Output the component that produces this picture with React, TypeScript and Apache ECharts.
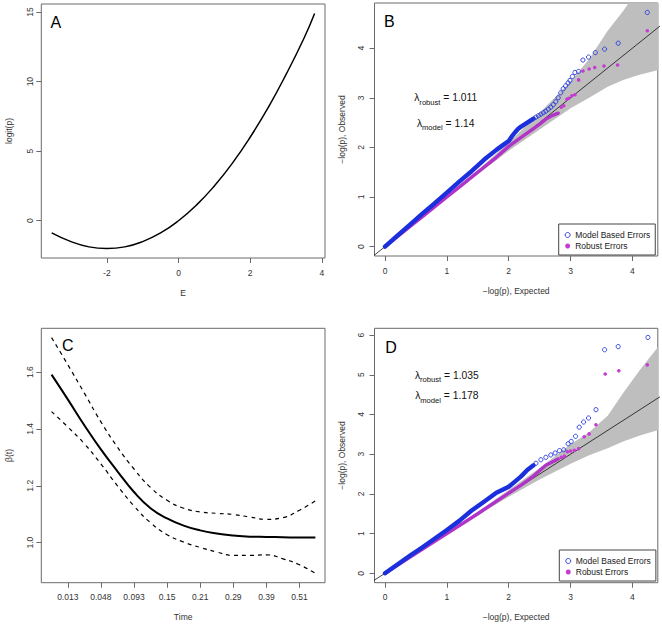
import { useEffect, useRef } from "react";
import * as echarts from "echarts";

const FONT = "'Liberation Sans', Arial, Helvetica, sans-serif";

// ---------- Panel A ----------
const eValues = [-3.54, -3.0, -2.5, -2.0, -1.5, -1.0, -0.5, 0, 0.5, 1.0, 1.5, 2.0, 2.5, 3.0, 3.5, 3.8];
const logitValues = [-0.87, -1.5, -1.88, -2.0, -1.88, -1.5, -0.88, 0.0, 1.12, 2.5, 4.12, 6.0, 8.12, 10.5, 13.1, 14.9];
const aXTicks = [-2, 0, 2, 4];
const aYTicks = [0, 5, 10, 15];

// ---------- Panel B ----------
const bModelDenseX = [0, 0.2, 0.4, 0.6, 0.8, 1.0, 1.2, 1.4, 1.6, 1.8, 1.9, 2.0, 2.05, 2.1, 2.15, 2.2, 2.3, 2.4];
const bModelDenseY = [0, 0.22, 0.44, 0.66, 0.87, 1.09, 1.31, 1.52, 1.75, 1.95, 2.04, 2.13, 2.22, 2.3, 2.37, 2.42, 2.5, 2.58];
const bModelTailX = [2.44, 2.48, 2.52, 2.56, 2.6, 2.64, 2.68, 2.72, 2.76, 2.8, 2.84, 2.88, 2.92, 2.96, 2.99, 3.03, 3.07, 3.13, 3.2, 3.29, 3.4, 3.55, 3.77, 4.24];
const bModelTailY = [2.61, 2.64, 2.67, 2.7, 2.73, 2.77, 2.81, 2.86, 2.92, 3.0, 3.1, 3.18, 3.24, 3.3, 3.35, 3.43, 3.51, 3.53, 3.76, 3.82, 3.91, 3.98, 4.1, 4.72];
const bRobustDenseX = [0, 0.2, 0.4, 0.6, 0.8, 1.0, 1.2, 1.4, 1.6, 1.8, 2.0, 2.2, 2.4, 2.5, 2.6, 2.7, 2.8];
const bRobustDenseY = [0, 0.2, 0.4, 0.6, 0.8, 1.0, 1.2, 1.4, 1.6, 1.8, 2.02, 2.2, 2.38, 2.47, 2.57, 2.64, 2.69];
const bRobustTailX = [2.85, 2.89, 2.94, 2.97, 3.02, 3.07, 3.13, 3.2, 3.3, 3.39, 3.54, 3.76, 4.24];
const bRobustTailY = [2.81, 2.84, 2.97, 2.99, 3.04, 3.06, 3.36, 3.54, 3.58, 3.61, 3.64, 3.66, 4.35];
const bBandX = [0, 1.0, 1.5, 2.0, 2.5, 3.0, 3.3, 3.6, 3.85, 4.1, 4.42];
const bBandLower = [0, 0.98, 1.46, 1.93, 2.36, 2.79, 3.0, 3.22, 3.36, 3.46, 3.56];
const bBandUpper = [0, 1.02, 1.54, 2.1, 2.7, 3.33, 3.78, 4.35, 4.75, 5.2, 5.8];
const qqXTicks = [0, 1, 2, 3, 4];
const bYTicks = [0, 1, 2, 3, 4];

// ---------- Panel C ----------
const timeTickLabels = ["0.013", "0.048", "0.093", "0.15", "0.21", "0.29", "0.39", "0.51"];
const timeTickPos = [0, 1, 2, 3, 4, 5, 6, 7];
const cPos = [-0.49, 0, 0.5, 1, 1.5, 2, 2.5, 3, 3.5, 4, 4.5, 5, 5.5, 6, 6.5, 7, 7.48];
const betaFit = [1.591, 1.504, 1.413, 1.328, 1.251, 1.178, 1.121, 1.085, 1.06, 1.043, 1.032, 1.025, 1.021, 1.02, 1.019, 1.018, 1.018];
const betaUpper = [1.721, 1.626, 1.526, 1.425, 1.336, 1.259, 1.194, 1.149, 1.121, 1.108, 1.103, 1.099, 1.09, 1.082, 1.088, 1.114, 1.147];
const betaLower = [1.461, 1.407, 1.348, 1.277, 1.2, 1.129, 1.07, 1.028, 1.002, 0.983, 0.967, 0.955, 0.955, 0.957, 0.943, 0.922, 0.892];
const cYTicks = [1.0, 1.2, 1.4, 1.6];

// ---------- Panel D ----------
const dModelDenseX = [0, 0.2, 0.4, 0.6, 0.8, 1.0, 1.2, 1.4, 1.6, 1.8, 2.0, 2.1, 2.2, 2.3, 2.4];
const dModelDenseY = [0, 0.22, 0.44, 0.65, 0.87, 1.09, 1.32, 1.58, 1.8, 2.03, 2.18, 2.31, 2.44, 2.6, 2.72];
const dModelTailX = [2.44, 2.52, 2.6, 2.68, 2.75, 2.82, 2.89, 2.96, 3.01, 3.08, 3.14, 3.21, 3.29, 3.41, 3.55, 3.77, 4.25];
const dModelTailY = [2.77, 2.86, 2.92, 2.98, 3.03, 3.09, 3.11, 3.26, 3.32, 3.45, 3.68, 3.81, 3.91, 4.12, 5.63, 5.71, 5.94];
const dRobustDenseX = [0, 0.5, 1.0, 1.5, 2.0, 2.2, 2.4, 2.6, 2.8];
const dRobustDenseY = [0, 0.5, 1.0, 1.5, 2.02, 2.22, 2.45, 2.72, 2.88];
const dRobustTailX = [2.85, 2.9, 2.95, 3.0, 3.06, 3.13, 3.22, 3.3, 3.41, 3.56, 3.78, 4.24];
const dRobustTailY = [2.92, 2.95, 3.06, 3.08, 3.1, 3.14, 3.44, 3.51, 3.74, 5.02, 5.1, 5.25];
const dBandX = [0, 1.0, 1.5, 2.0, 2.5, 3.0, 3.3, 3.6, 3.85, 4.12, 4.42];
const dBandLower = [0, 0.98, 1.46, 1.93, 2.36, 2.76, 2.97, 3.15, 3.32, 3.47, 3.61];
const dBandUpper = [0, 1.02, 1.55, 2.1, 2.65, 3.25, 3.55, 3.97, 4.54, 5.12, 5.71];
const dYTicks = [0, 1, 2, 3, 4, 5, 6];

const diagonal = [[-1, -1], [7, 7]];

const BLUE = "#2236dc";
const BLUE_DENSE = "#1b30dc";
const MAG = "#c63bd2";
const MAG_DENSE = "#b133c8";
const GRAY_BAND = "#bebebe";
const AXIS_COL = "#6a6a6a";
const TEXT_COL = "#333";

const zip = (xs: number[], ys: number[]) => xs.map((x, i) => [x, ys[i]]);

function xAxisDef(gridIndex: number, min: number, max: number, ticks: number[], name: string, nameGap: number, margin: number, extra: any = {}) {
  return {
    type: "value",
    gridIndex,
    min,
    max,
    name,
    nameLocation: "middle",
    nameGap,
    nameTextStyle: { fontSize: 8.5, color: TEXT_COL, fontFamily: FONT },
    axisLine: { show: false, onZero: false },
    axisTick: { show: true, length: 5, customValues: ticks, lineStyle: { color: AXIS_COL, width: 1 } },
    axisLabel: { customValues: ticks, fontSize: 8.5, color: TEXT_COL, fontFamily: FONT, margin, ...(extra.axisLabel || {}) },
    splitLine: { show: false },
  };
}

function yAxisDef(gridIndex: number, min: number, max: number, ticks: number[], name: string, nameGap: number, margin: number, fmt?: (v: number) => string) {
  return {
    type: "value",
    gridIndex,
    min,
    max,
    name,
    nameLocation: "middle",
    nameGap,
    nameRotate: 90,
    nameTextStyle: { fontSize: 8.5, color: TEXT_COL, fontFamily: FONT },
    axisLine: { show: false, onZero: false },
    axisTick: { show: true, length: 5, customValues: ticks, lineStyle: { color: AXIS_COL, width: 1 } },
    axisLabel: {
      customValues: ticks,
      fontSize: 8.5,
      color: TEXT_COL,
      fontFamily: FONT,
      margin,
      rotate: 90,
      formatter: fmt,
    },
    splitLine: { show: false },
  };
}

function bandSeries(axisIndex: number, xs: number[], lo: number[], hi: number[]) {
  return {
    type: "custom",
    xAxisIndex: axisIndex,
    yAxisIndex: axisIndex,
    clip: true,
    silent: true,
    z: 1,
    data: [0],
    renderItem: (_p: any, api: any) => {
      const pts: number[][] = [];
      for (let i = 0; i < xs.length; i++) pts.push(api.coord([xs[i], hi[i]]));
      for (let i = xs.length - 1; i >= 0; i--) pts.push(api.coord([xs[i], lo[i]]));
      return { type: "polygon", shape: { points: pts }, style: { fill: GRAY_BAND, stroke: null } };
    },
  };
}

function qqSeries(axisIndex: number, mdx: number[], mdy: number[], mtx: number[], mty: number[], rdx: number[], rdy: number[], rtx: number[], rty: number[]) {
  const common = { xAxisIndex: axisIndex, yAxisIndex: axisIndex };
  return [
    {
      ...common,
      type: "line",
      name: "diag" + axisIndex,
      data: diagonal,
      showSymbol: false,
      silent: true,
      z: 2,
      lineStyle: { color: "#111", width: 0.8 },
    },
    {
      ...common,
      type: "line",
      name: "robustDense" + axisIndex,
      data: zip(rdx, rdy),
      showSymbol: false,
      z: 3,
      lineStyle: { color: MAG_DENSE, width: 3.4, cap: "round", join: "round" },
    },
    {
      ...common,
      type: "line",
      name: "modelDense" + axisIndex,
      data: zip(mdx, mdy),
      showSymbol: false,
      z: 4,
      lineStyle: { color: BLUE_DENSE, width: 4.4, cap: "round", join: "round" },
    },
    {
      ...common,
      type: "scatter",
      name: "Robust Errors",
      data: zip(rtx, rty),
      symbol: "circle",
      symbolSize: 3.6,
      z: 5,
      itemStyle: { color: MAG, opacity: 1 },
    },
    {
      ...common,
      type: "scatter",
      name: "Model Based Errors",
      data: zip(mtx, mty),
      symbol: "circle",
      symbolSize: 4.2,
      z: 5,
      itemStyle: { color: "rgba(0,0,0,0)", borderColor: BLUE, borderWidth: 0.9, opacity: 1 },
    },
  ];
}

function legendDef(left: number, top: number) {
  return {
    left,
    top,
    orient: "vertical",
    padding: [6, 5, 4, 6],
    itemGap: 1,
    itemWidth: 5,
    itemHeight: 5,
    borderColor: "#444",
    borderWidth: 1,
    backgroundColor: "#fff",
    selectedMode: false,
    textStyle: { fontSize: 8.5, color: "#222", fontFamily: FONT, lineHeight: 10 },
    data: [
      { name: "Model Based Errors", icon: "circle", itemStyle: { color: "rgba(0,0,0,0)", borderColor: BLUE, borderWidth: 0.9 } },
      { name: "Robust Errors", icon: "circle", itemStyle: { color: MAG } },
    ],
  };
}

function lambdaText(cx: number, cy: number, sub: string, value: string) {
  return {
    type: "text",
    x: cx,
    y: cy,
    silent: true,
    style: {
      text: `{l|λ}{s|${sub}}{l| = ${value}}`,
      align: "center",
      verticalAlign: "middle",
      fill: "#111",
      rich: {
        l: { fontSize: 10.3, fontFamily: FONT, lineHeight: 12, verticalAlign: "top", fill: "#111" },
        s: { fontSize: 7.6, fontFamily: FONT, lineHeight: 8, padding: [5.5, 0, 0, 0], verticalAlign: "top", fill: "#111" },
      },
    },
  };
}

function panelLetter(x: number, y: number, t: string) {
  return {
    type: "text",
    x,
    y,
    silent: true,
    style: { text: t, fontSize: 16, fontFamily: FONT, fill: "#000", align: "left", verticalAlign: "middle" },
  };
}

export default function App() {
  const ref = useRef<HTMLDivElement>(null);
  useEffect(() => {
    if (!ref.current) return;
    const chart = echarts.init(ref.current, undefined, { renderer: "svg" });
    const gridStyle = { show: true, borderColor: AXIS_COL, borderWidth: 1, backgroundColor: "transparent", containLabel: false };
    const option: any = {
      animation: false,
      backgroundColor: "#fff",
      textStyle: { fontFamily: FONT },
      grid: [
        { ...gridStyle, left: 41.3, top: 4, width: 283.7, height: 254 },
        { ...gridStyle, left: 374.5, top: 3, width: 283.3, height: 253 },
        { ...gridStyle, left: 41.3, top: 328.3, width: 283.7, height: 254.4 },
        { ...gridStyle, left: 374.5, top: 328.3, width: 283.3, height: 254.4 },
      ],
      xAxis: [
        xAxisDef(0, -3.83, 4.09, aXTicks, "E", 30, 10),
        xAxisDef(1, -0.17, 4.41, qqXTicks, "\u2212log(p), Expected", 30.5, 10),
        xAxisDef(2, -0.8, 7.77, timeTickPos, "Time", 29.5, 9.5, {
          axisLabel: { formatter: (v: number) => timeTickLabels[Math.round(v)] ?? "" },
        }),
        xAxisDef(3, -0.17, 4.41, qqXTicks, "\u2212log(p), Expected", 29.5, 9.5),
      ],
      yAxis: [
        yAxisDef(0, -2.68, 15.58, aYTicks, "logit(p)", 28, 7),
        yAxisDef(1, -0.189, 4.91, bYTicks, "\u2212log(p), Observed", 28.5, 9),
        yAxisDef(2, 0.859, 1.754, cYTicks, "\u03b2(t)", 28, 7, (v: number) => v.toFixed(1)),
        yAxisDef(3, -0.237, 6.17, dYTicks, "\u2212log(p), Observed", 28.5, 9),
      ],
      legend: [legendDef(558.7, 224), legendDef(559.3, 550)],
      series: [
        {
          type: "line",
          xAxisIndex: 0,
          yAxisIndex: 0,
          data: zip(eValues, logitValues),
          smooth: true,
          showSymbol: false,
          lineStyle: { color: "#000", width: 1.5 },
        },
        bandSeries(1, bBandX, bBandLower, bBandUpper),
        ...qqSeries(1, bModelDenseX, bModelDenseY, bModelTailX, bModelTailY, bRobustDenseX, bRobustDenseY, bRobustTailX, bRobustTailY),
        {
          type: "line",
          xAxisIndex: 2,
          yAxisIndex: 2,
          data: zip(cPos, betaFit),
          smooth: true,
          showSymbol: false,
          lineStyle: { color: "#000", width: 2 },
        },
        {
          type: "line",
          xAxisIndex: 2,
          yAxisIndex: 2,
          data: zip(cPos, betaUpper),
          smooth: true,
          showSymbol: false,
          lineStyle: { color: "#000", width: 1.2, type: [4, 4] },
        },
        {
          type: "line",
          xAxisIndex: 2,
          yAxisIndex: 2,
          data: zip(cPos, betaLower),
          smooth: true,
          showSymbol: false,
          lineStyle: { color: "#000", width: 1.2, type: [4, 4] },
        },
        bandSeries(3, dBandX, dBandLower, dBandUpper),
        ...qqSeries(3, dModelDenseX, dModelDenseY, dModelTailX, dModelTailY, dRobustDenseX, dRobustDenseY, dRobustTailX, dRobustTailY),
      ],
      graphic: [
        panelLetter(50.5, 22.5, "A"),
        panelLetter(384, 21.3, "B"),
        panelLetter(62, 345.5, "C"),
        panelLetter(385.3, 347.7, "D"),
        lambdaText(445.7, 98.5, "robust", "1.011"),
        lambdaText(445.7, 124, "model", "1.14"),
        lambdaText(446.8, 376.3, "robust", "1.035"),
        lambdaText(446.8, 396.6, "model", "1.178"),
      ],
    };
    chart.setOption(option);
    return () => chart.dispose();
  }, []);
  return <div ref={ref} style={{ position: "fixed", left: 0, top: 0, width: 662, height: 625, background: "#fff" }} />;
}
